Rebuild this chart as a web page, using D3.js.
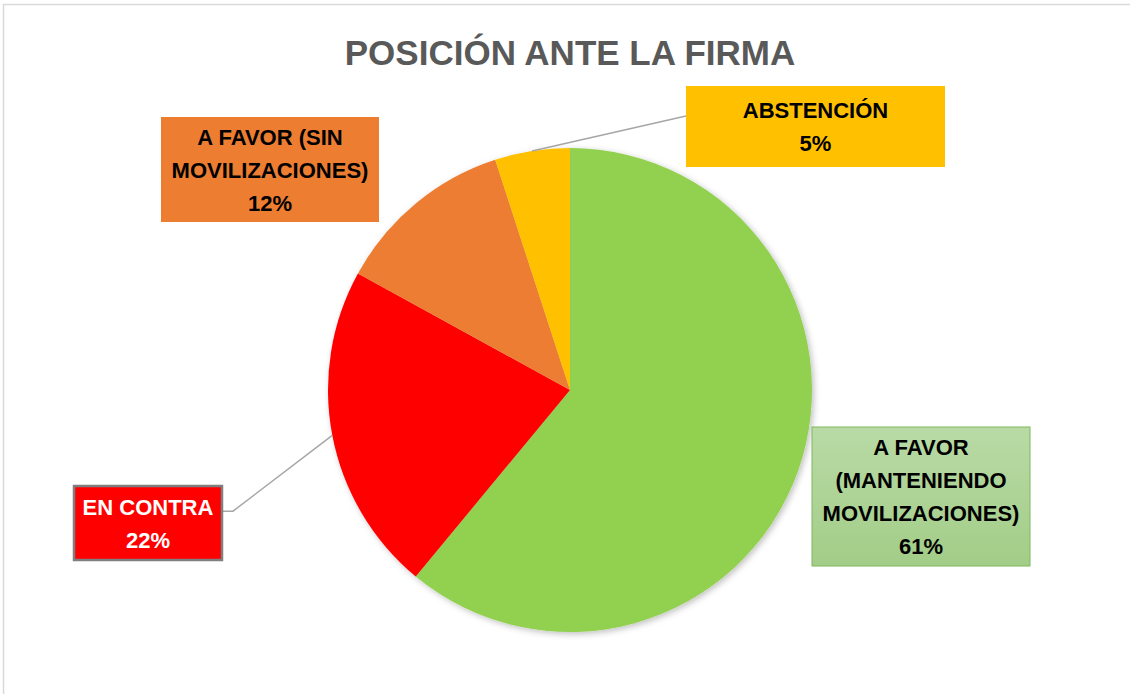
<!DOCTYPE html>
<html>
<head>
<meta charset="utf-8">
<script src="https://cdn.jsdelivr.net/npm/d3@7"></script>
<style>
  body { margin: 0; background: #fff; }
</style>
</head>
<body>
<div id="chart"></div>
<script>
// data
const categories = ['A FAVOR (MANTENIENDO MOVILIZACIONES)', 'EN CONTRA', 'A FAVOR (SIN MOVILIZACIONES)', 'ABSTENCIÓN'];
const values = [61, 22, 12, 5];
const labelLines = [
    ['A FAVOR', '(MANTENIENDO', 'MOVILIZACIONES)'],
    ['EN CONTRA'],
    ['A FAVOR (SIN', 'MOVILIZACIONES)'],
    ['ABSTENCIÓN']
];
const sliceColors = ['#92D050', '#FF0000', '#ED7D31', '#FFC000'];

const width = 1130;
const height = 694;
const cx = 570;
const cy = 390;
const radius = 242;
const fontFamily = '"Liberation Sans", Arial, sans-serif';
const labelFont = 22;
const lineH = 33;

// label boxes: x, y, w, h, text colour, border, leader line
const boxes = [
    {x: 812, y: 427, w: 218, h: 139, color: 'black', fill: 'url(#greenGrad)', stroke: '#7fb85a', sw: 1, leader: false},
    {x: 74, y: 486, w: 148, h: 74, color: 'white', fill: '#FF0000', stroke: '#7f7f7f', sw: 2.5, leader: true},
    {x: 161, y: 117, w: 218, h: 105, color: 'black', fill: '#ED7D31', stroke: 'none', sw: 0, leader: false},
    {x: 686, y: 86, w: 259, h: 81, color: 'black', fill: '#FFC000', stroke: 'none', sw: 0, leader: true}
];

const svg = d3.select('#chart')
    .append('svg')
        .attr('width', width)
        .attr('height', height);

const defs = svg.append('defs');
const grad = defs.append('linearGradient')
    .attr('id', 'greenGrad')
    .attr('x1', 0).attr('y1', 0).attr('x2', 0).attr('y2', 1);
grad.append('stop').attr('offset', '0%').attr('stop-color', '#b9daa6');
grad.append('stop').attr('offset', '100%').attr('stop-color', '#a2cd87');

const shadow = defs.append('filter')
    .attr('id', 'shadow')
    .attr('x', '-10%').attr('y', '-10%').attr('width', '120%').attr('height', '120%');
shadow.append('feDropShadow')
    .attr('dx', 2).attr('dy', 2).attr('stdDeviation', 3)
    .attr('flood-color', '#000').attr('flood-opacity', 0.25);

// chart area border
svg.append('rect')
    .attr('x', 3.5)
    .attr('y', 4.5)
    .attr('width', width + 10)
    .attr('height', height + 10)
    .attr('fill', 'white')
    .attr('stroke', '#d9d9d9')
    .attr('stroke-width', 1.5);

svg.append('text')
    .attr('x', cx)
    .attr('y', 65)
    .attr('text-anchor', 'middle')
    .style('font-family', fontFamily)
    .style('font-weight', 'bold')
    .style('font-size', '35px')
    .attr('fill', '#595959')
    .text('POSICIÓN ANTE LA FIRMA');

const total = d3.sum(values);
const pct = d3.format('.0%');

const pie = d3.pie().sort(null).value(d => d);
const arcs = pie(values);
const arc = d3.arc().innerRadius(0).outerRadius(radius);

const g = svg.append('g')
    .attr('transform', `translate(${cx},${cy})`);

g.append('g')
    .attr('filter', 'url(#shadow)')
    .selectAll('path')
    .data(arcs)
    .join('path')
        .attr('d', arc)
        .attr('fill', (d, i) => sliceColors[i]);

// leader lines from slice edge to label box
arcs.forEach((d, i) => {
    const b = boxes[i];
    if (!b.leader) return;
    const a = (d.startAngle + d.endAngle) / 2;
    const sx = cx + radius * Math.sin(a);
    const sy = cy - radius * Math.cos(a);
    let pts;
    if (b.x > cx) {
        pts = [[sx, sy], [b.x, b.y + b.h * 0.37]];
    } else {
        const ey = b.y + b.h * 0.34;
        pts = [[sx, sy], [b.x + b.w + 11, ey], [b.x + b.w, ey]];
    }
    svg.append('path')
        .attr('d', d3.line()(pts))
        .attr('fill', 'none')
        .attr('stroke', '#a6a6a6')
        .attr('stroke-width', 1.5);
});

const labels = svg.selectAll('.lbl')
    .data(arcs)
    .join('g')
        .attr('class', 'lbl');

labels.append('rect')
    .attr('x', (d, i) => boxes[i].x)
    .attr('y', (d, i) => boxes[i].y)
    .attr('width', (d, i) => boxes[i].w)
    .attr('height', (d, i) => boxes[i].h)
    .attr('fill', (d, i) => boxes[i].fill)
    .attr('stroke', (d, i) => boxes[i].stroke)
    .attr('stroke-width', (d, i) => boxes[i].sw);

labels.each(function (d, i) {
    const b = boxes[i];
    const lines = labelLines[i].concat([pct(d.value / total)]);
    const top = b.y + b.h / 2 - (lines.length - 1) * lineH / 2;
    const t = d3.select(this).append('text')
        .attr('text-anchor', 'middle')
        .style('font-family', fontFamily)
        .style('font-weight', 'bold')
        .style('font-size', labelFont + 'px')
        .attr('fill', b.color);
    lines.forEach((s, k) => {
        t.append('tspan')
            .attr('x', b.x + b.w / 2)
            .attr('y', top + k * lineH + 8)
            .text(s);
    });
});
</script>
</body>
</html>
